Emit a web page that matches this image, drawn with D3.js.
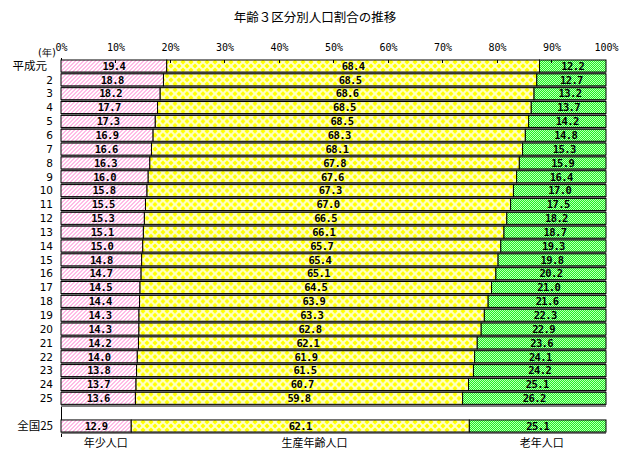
<!DOCTYPE html>
<html><head><meta charset="utf-8">
<script src="https://cdn.jsdelivr.net/npm/d3@7/dist/d3.min.js"></script>
<style>
body{margin:0;background:#fff;}
svg{display:block;}
</style></head>
<body>
<svg id="chart" width="630" height="459"></svg>
<script>
const title = "年齢３区分別人口割合の推移";
const categories = ["平成元","2","3","4","5","6","7","8","9","10","11","12","13","14","15","16","17","18","19","20","21","22","23","24","25","","全国25"];
const young   = [19.4,18.8,18.2,17.7,17.3,16.9,16.6,16.3,16.0,15.8,15.5,15.3,15.1,15.0,14.8,14.7,14.5,14.4,14.3,14.3,14.2,14.0,13.8,13.7,13.6,null,12.9];
const working = [68.4,68.5,68.6,68.5,68.5,68.3,68.1,67.8,67.6,67.3,67.0,66.5,66.1,65.7,65.4,65.1,64.5,63.9,63.3,62.8,62.1,61.9,61.5,60.7,59.8,null,62.1];
const old     = [12.2,12.7,13.2,13.7,14.2,14.8,15.3,15.9,16.4,17.0,17.5,18.2,18.7,19.3,19.8,20.2,21.0,21.6,22.3,22.9,23.6,24.1,24.2,25.1,26.2,null,25.1];
const seriesNames = ["年少人口","生産年齢人口","老年人口"];
const tickValues = [0,10,20,30,40,50,60,70,80,90,100];
const yearUnit = "(年)";

const svg = d3.select("#chart");
const keys = categories.map((c,i)=>"k"+i);
const x = d3.scaleLinear().domain([0,100]).range([61,606]);
const y = d3.scaleBand().domain(keys).range([60,432]).paddingInner(0.13).paddingOuter(0);
const bw = y.bandwidth();

const defs = svg.append("defs");
// pink hatch (crisp pixel diagonal)
const ph = defs.append("pattern").attr("id","pHatch").attr("patternUnits","userSpaceOnUse").attr("width",4).attr("height",4);
ph.append("rect").attr("width",4).attr("height",4).attr("fill","#fff");
[[0,3],[1,2],[2,1],[3,0],[1,3],[2,2],[3,1],[0,0]].forEach(([px,py])=>ph.append("rect").attr("x",px).attr("y",py).attr("width",1).attr("height",1).attr("fill","#ffbce6"));
// green dither
const pg = defs.append("pattern").attr("id","pGreen").attr("patternUnits","userSpaceOnUse").attr("width",2).attr("height",2);
pg.append("rect").attr("width",2).attr("height",2).attr("fill","#22f222");
pg.append("rect").attr("width",1).attr("height",1).attr("fill","#b8ffb8");
pg.append("rect").attr("x",1).attr("y",1).attr("width",1).attr("height",1).attr("fill","#b8ffb8");

// per-row yellow diamond pattern aligned to each bar
function yellowPattern(id, y0){
  const p = defs.append("pattern").attr("id",id).attr("patternUnits","userSpaceOnUse")
    .attr("width",8).attr("height",8).attr("patternTransform",`translate(${x(0)+2},${y0+bw/2-4})`);
  p.append("rect").attr("width",8).attr("height",8).attr("fill","#ffffc8");
  const r = 2.6;
  const dia = (cx,cy)=>`M${cx},${cy-r} L${cx+r},${cy} L${cx},${cy+r} L${cx-r},${cy} Z`;
  p.append("path").attr("d",[dia(4,4),dia(0,0),dia(8,0),dia(0,8),dia(8,8)].join(" ")).attr("fill","#ffff00");
}

// title
svg.append("text").attr("x",315).attr("y",22).attr("text-anchor","middle")
  .attr("font-family","'Noto Sans CJK JP', sans-serif").attr("font-size",12.5).text(title);

// top axis
const ax = svg.append("g").attr("transform","translate(0,54)")
  .call(d3.axisTop(x).tickValues(tickValues).tickFormat(d=>d+"%").tickSize(0).tickPadding(3));
ax.select(".domain").remove();
ax.selectAll("text").attr("font-family","'DejaVu Sans Mono', monospace").attr("font-size",10).attr("fill","#000");

// left axis line
svg.append("line").attr("x1",x(0)).attr("x2",x(0)).attr("y1",58).attr("y2",437)
  .attr("stroke","#000").attr("stroke-width",1).attr("shape-rendering","crispEdges");

// year unit label
svg.append("text").attr("x",47).attr("y",56).attr("text-anchor","middle")
  .attr("font-family","'DejaVu Sans', sans-serif").attr("font-size",10).text(yearUnit);

const rows = categories.map((c,i)=>({c,i,k:keys[i],v:[young[i],working[i],old[i]]})).filter(r=>r.v[0]!=null);

// category labels
const isCJK = c => /[^\x00-\x7f]/.test(c);
svg.append("g").selectAll("text").data(categories.map((c,i)=>({c,i}))).join("text")
  .attr("x",d=>d.c==="平成元"?47:53)
  .attr("y",d=>y(keys[d.i])+bw/2)
  .attr("dy","0.36em").attr("text-anchor","end")
  .attr("font-family",d=>isCJK(d.c)?"'Noto Sans CJK JP', sans-serif":"'DejaVu Sans', sans-serif")
  .attr("font-size",d=>isCJK(d.c)?11.5:10.5)
  .text(d=>d.c);

const fills = ["url(#pHatch)", null, "url(#pGreen)"];
const g = svg.append("g");
rows.forEach(r=>{
  const y0 = y(r.k);
  yellowPattern("pY"+r.i, y0);
  const total = d3.sum(r.v);
  // shadow
  g.append("rect").attr("x",x(0)).attr("y",y0+2.2).attr("width",x(100)-x(0)).attr("height",bw)
    .attr("fill","#808080").attr("shape-rendering","crispEdges");
  let acc = 0;
  r.v.forEach((v,j)=>{
    const a = acc/total*100, b = (acc+v)/total*100;
    acc += v;
    g.append("rect").attr("x",x(a)).attr("y",y0).attr("width",x(b)-x(a)).attr("height",bw)
      .attr("fill", j===1 ? "url(#pY"+r.i+")" : fills[j])
      .attr("stroke","#000").attr("stroke-width",1);
    g.append("text").attr("x",(x(a)+x(b))/2).attr("y",y0+bw/2).attr("dy","0.36em")
      .attr("text-anchor","middle").attr("font-family","'DejaVu Sans Mono', monospace")
      .attr("font-weight","bold").attr("font-size",10.5).attr("letter-spacing",-0.6)
      .attr("fill","#000").text(v.toFixed(1));
  });
});

// small grid ticks at top of first bar
svg.append("g").selectAll("line").data(tickValues.slice(1,-1)).join("line")
  .attr("x1",d=>x(d)).attr("x2",d=>x(d)).attr("y1",y(keys[0])).attr("y2",y(keys[0])+3)
  .attr("stroke","#000").attr("stroke-width",1).attr("shape-rendering","crispEdges");

// bottom series labels
const labelPos = [8.2, 46.5, 88.2];
svg.append("g").selectAll("text").data(seriesNames).join("text")
  .attr("x",(d,i)=>x(labelPos[i])).attr("y",447).attr("text-anchor","middle")
  .attr("font-family","'Noto Sans CJK JP', sans-serif").attr("font-size",11).text(d=>d);
</script>
</body></html>
